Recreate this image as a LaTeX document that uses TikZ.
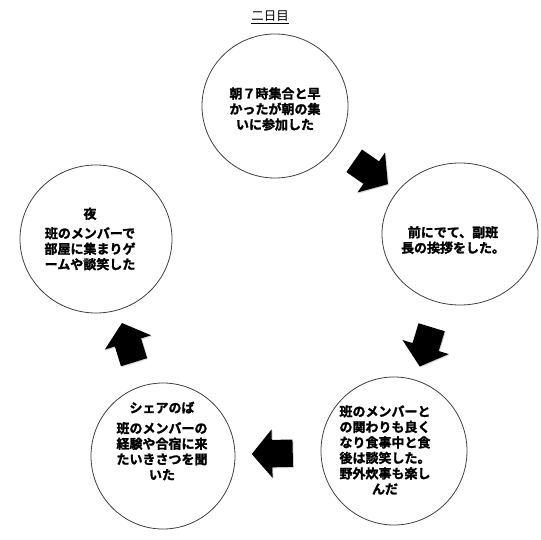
\documentclass[tikz,border=0pt]{standalone}
\usepackage{fontspec}
\newfontfamily\jpfont{Noto Sans CJK JP}[BoldFont={Noto Sans CJK JP Bold},BoldFeatures={FakeBold=1.6}]
\usetikzlibrary{shapes.geometric,shapes.arrows,shadows,calc}
\tikzset{%
		maru/.style={draw=black!75,line width=.8pt,fill=white,ellipse,inner sep=0pt},
		moji/.style={align=center,inner sep=0pt,font=\jpfont\bfseries\fontsize{13}{15.5}\selectfont},
		yaji/.style={single arrow,fill=black,draw=none,inner xsep=0pt,inner ysep=13.5pt,
			minimum height=41pt,single arrow head extend=10.5pt,
			single arrow tip angle=100,midway,sloped,allow upside down,
			drop shadow={opacity=.3,shadow xshift=1pt,shadow yshift=-1pt}}
	}

\begin{document}
\begin{tikzpicture}[x=1pt,y=-1pt]
      \useasboundingbox (0,0) rectangle (540,540);
      \fill[white] (0,0) rectangle (540,540);

      \node[font=\jpfont\fontsize{12.5}{12.5}\selectfont] (hidzuke) at (270,17) {\underline{二日目}};

      % die fuenf Kreise
      \node[maru,minimum width=146pt,minimum height=144pt] (asa) at (275,106) {};
      \node[maru,minimum width=156pt,minimum height=142pt] (aisatsu) at (460,234) {};
      \node[maru,minimum width=146pt,minimum height=148pt] (shokuji) at (394,451) {};
      \node[maru,minimum width=144pt,minimum height=146pt] (share) at (163,456) {};
      \node[maru,minimum width=152pt,minimum height=148pt] (yoru) at (96,239) {};

      \node[moji] (asatext) at ($(asa)+(0,3)$) {朝７時集合と早\\かったが朝の集\\いに参加した};
      \node[moji] (aisatsutext) at ($(aisatsu)+(-7,6)$) {前にでて、副班\\長の挨拶をした。};
      \node[moji] (shokujitext) at ($(shokuji)+(-9,-1)$) {班のメンバーと\\の関わりも良く\\なり食事中と食\\後は談笑した。\\野外炊事も楽し\\んだ};
      \node[moji] (sharetext) at ($(share)+(-1,-15)$) {シェアのば\\[5pt]班のメンバーの\\経験や合宿に来\\たいきさつを聞\\いた};
      \node[moji] (yorutext) at ($(yoru)+(-6,0)$) {夜\\[4pt]班のメンバーで\\部屋に集まりゲ\\ームや談笑した};

      % Pfeile
      \path (asa) -- (aisatsu) node[yaji] (yaji1) {};
      \path (aisatsu) -- (shokuji) node[yaji] (yaji2) {};
      \path (shokuji) -- (share) node[yaji] (yaji3) {};
      \path (share) -- (yoru) node[yaji] (yaji4) {};
\end{tikzpicture}
\end{document}
